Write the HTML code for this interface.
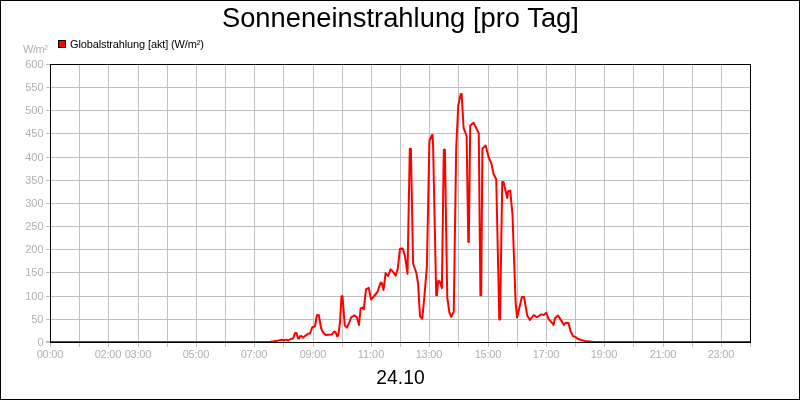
<!DOCTYPE html>
<html><head><meta charset="utf-8"><title>Sonneneinstrahlung</title>
<style>
html,body{margin:0;padding:0;background:#fff}
body{width:800px;height:400px;overflow:hidden}
svg{display:block}
text{font-family:"Liberation Sans",sans-serif}
.g{fill:#b0b0b0;font-size:11px}
.k{fill:#000}
</style></head><body>
<svg width="800" height="400" viewBox="0 0 800 400">
<rect x="0" y="0" width="800" height="400" fill="#fff"/>
<rect x="0.5" y="0.5" width="799" height="399" fill="none" stroke="#000" stroke-width="1" shape-rendering="crispEdges"/>
<g shape-rendering="crispEdges" fill="#c0c0c0">
<rect x="79" y="65" width="1" height="282"/><rect x="108" y="65" width="1" height="282"/><rect x="138" y="65" width="1" height="282"/><rect x="167" y="65" width="1" height="282"/><rect x="196" y="65" width="1" height="282"/><rect x="225" y="65" width="1" height="282"/><rect x="254" y="65" width="1" height="282"/><rect x="283" y="65" width="1" height="282"/><rect x="313" y="65" width="1" height="282"/><rect x="342" y="65" width="1" height="282"/><rect x="371" y="65" width="1" height="282"/><rect x="400" y="65" width="1" height="282"/><rect x="429" y="65" width="1" height="282"/><rect x="458" y="65" width="1" height="282"/><rect x="488" y="65" width="1" height="282"/><rect x="517" y="65" width="1" height="282"/><rect x="546" y="65" width="1" height="282"/><rect x="575" y="65" width="1" height="282"/><rect x="604" y="65" width="1" height="282"/><rect x="633" y="65" width="1" height="282"/><rect x="663" y="65" width="1" height="282"/><rect x="692" y="65" width="1" height="282"/><rect x="721" y="65" width="1" height="282"/>
<rect x="46" y="319" width="704" height="1"/><rect x="46" y="296" width="704" height="1"/><rect x="46" y="272" width="704" height="1"/><rect x="46" y="249" width="704" height="1"/><rect x="46" y="226" width="704" height="1"/><rect x="46" y="203" width="704" height="1"/><rect x="46" y="180" width="704" height="1"/><rect x="46" y="157" width="704" height="1"/><rect x="46" y="133" width="704" height="1"/><rect x="46" y="110" width="704" height="1"/><rect x="46" y="87" width="704" height="1"/>
<rect x="46" y="64" width="4" height="1"/><rect x="46" y="341" width="4" height="2"/><rect x="50" y="343" width="1" height="4"/><rect x="750" y="343" width="1" height="4"/>
</g>
<path d="M51 342 L264 342 L270 341.7 L274 341.2 L278.75 340.4 L281.25 339.75 L283.75 340.25 L286.25 339.6 L288.5 340.5 L290.6 339 L293.1 338.5 L295 333.1 L296.5 332.9 L298.1 338.5 L299 338.5 L300 336.25 L301.25 336 L303.1 337.75 L305.6 335.6 L308.1 333.75 L310 333.5 L312.25 327.25 L315 326.5 L316.9 315.25 L318.75 315 L321.25 328.75 L323.1 332.5 L325.6 335 L331.9 334.4 L334.4 331.5 L335.6 332.25 L337.25 336.25 L338.2 335.6 L340 322.5 L341.5 296.25 L342.5 296.25 L344.75 325.6 L346.9 327.5 L348.75 323.75 L351.25 317.25 L354.4 315.4 L356.9 317.25 L359 325 L360.6 308.5 L362.25 307.5 L363.75 309.4 L366 289.4 L368.75 287.75 L371 299.4 L372.5 298.1 L375 295 L377.5 291.9 L380.6 282.5 L381.9 283.1 L383.5 290 L385.6 273.1 L388.1 276 L390.6 269.4 L393.1 271.9 L395.6 275.6 L397.75 268.75 L400 248.75 L402.75 248.5 L405 256.25 L407.5 273.75 L409.8 148.8 L410.9 148.8 L413.1 263.75 L416.25 272.5 L418.1 283.75 L420 316.25 L422.25 318.75 L424.4 296.25 L426.9 266.25 L429.4 141 L432 135 L432.6 135 L433.1 146 L436.2 295.3 L436.9 295.3 L438.1 281 L439.75 281.5 L441.9 288.1 L443.8 149.8 L444.9 149.8 L447.25 297.5 L449.4 312.5 L451.25 316.9 L453.75 311.9 L456.2 148 L458.3 105 L460.8 93.9 L461.6 93.9 L463.6 128 L466.6 136 L468.3 242 L468.8 242 L470.2 125.6 L473.5 122.7 L478.75 133.1 L480.4 295.2 L481.2 295.2 L482.4 148.4 L485.6 145.6 L488.75 157.5 L491.25 163.1 L493.5 173.75 L496.25 179.4 L499.3 319.6 L500 319.6 L502.25 181.9 L503.5 181.9 L507.25 198.1 L508.1 191.25 L510.25 190.6 L512.5 215 L515.6 302.5 L517.1 317.5 L521.9 296.9 L524 296.9 L527.25 315.6 L530 320 L533.75 315 L536.9 317.25 L541.25 314.4 L543.75 315 L546.25 312.75 L548.75 319.4 L551.25 321.9 L553.5 325 L555 318.1 L558.1 315.6 L561.25 320.6 L564 325 L565.6 322.75 L568.5 323.1 L570.6 331.25 L573.1 336.25 L575.25 336.9 L578.1 339 L581.25 340 L585 341 L592.5 341.8 L600 342 L750 342" fill="none" stroke="#ff0000" stroke-width="2" stroke-linejoin="round" stroke-linecap="butt"/>
<rect x="50.5" y="64.5" width="700" height="278" fill="none" stroke="#000" stroke-width="1" shape-rendering="crispEdges"/>
<text class="k" x="400.4" y="27" font-size="27.3" text-anchor="middle" textLength="357" lengthAdjust="spacing" id="title">Sonneneinstrahlung [pro Tag]</text>
<text class="k" x="400.5" y="384" font-size="19.3" text-anchor="middle" id="date">24.10</text>
<rect x="58.5" y="40.5" width="7" height="7" fill="#ff0000" stroke="#000" stroke-width="1" shape-rendering="crispEdges"/>
<text class="k" x="70" y="48" font-size="11" textLength="134" lengthAdjust="spacing" id="leg">Globalstrahlung [akt] (W/m²)</text>
<text class="g" x="23" y="53" textLength="25" lengthAdjust="spacing" id="unit">W/m²</text>
<text class="g" x="43.5" y="346" text-anchor="end">0</text><text class="g" x="43.5" y="323" text-anchor="end">50</text><text class="g" x="43.5" y="300" text-anchor="end">100</text><text class="g" x="43.5" y="276" text-anchor="end">150</text><text class="g" x="43.5" y="253" text-anchor="end">200</text><text class="g" x="43.5" y="230" text-anchor="end">250</text><text class="g" x="43.5" y="207" text-anchor="end">300</text><text class="g" x="43.5" y="184" text-anchor="end">350</text><text class="g" x="43.5" y="161" text-anchor="end">400</text><text class="g" x="43.5" y="137" text-anchor="end">450</text><text class="g" x="43.5" y="114" text-anchor="end">500</text><text class="g" x="43.5" y="91" text-anchor="end">550</text><text class="g" x="43.5" y="68" text-anchor="end">600</text>
<text class="g" x="50" y="358" text-anchor="middle" textLength="26.6" lengthAdjust="spacing">00:00</text><text class="g" x="108" y="358" text-anchor="middle" textLength="26.6" lengthAdjust="spacing">02:00</text><text class="g" x="138" y="358" text-anchor="middle" textLength="26.6" lengthAdjust="spacing">03:00</text><text class="g" x="196" y="358" text-anchor="middle" textLength="26.6" lengthAdjust="spacing">05:00</text><text class="g" x="254" y="358" text-anchor="middle" textLength="26.6" lengthAdjust="spacing">07:00</text><text class="g" x="313" y="358" text-anchor="middle" textLength="26.6" lengthAdjust="spacing">09:00</text><text class="g" x="371" y="358" text-anchor="middle" textLength="26.6" lengthAdjust="spacing">11:00</text><text class="g" x="429" y="358" text-anchor="middle" textLength="26.6" lengthAdjust="spacing">13:00</text><text class="g" x="488" y="358" text-anchor="middle" textLength="26.6" lengthAdjust="spacing">15:00</text><text class="g" x="546" y="358" text-anchor="middle" textLength="26.6" lengthAdjust="spacing">17:00</text><text class="g" x="604" y="358" text-anchor="middle" textLength="26.6" lengthAdjust="spacing">19:00</text><text class="g" x="663" y="358" text-anchor="middle" textLength="26.6" lengthAdjust="spacing">21:00</text><text class="g" x="721" y="358" text-anchor="middle" textLength="26.6" lengthAdjust="spacing">23:00</text>
</svg>
</body></html>
